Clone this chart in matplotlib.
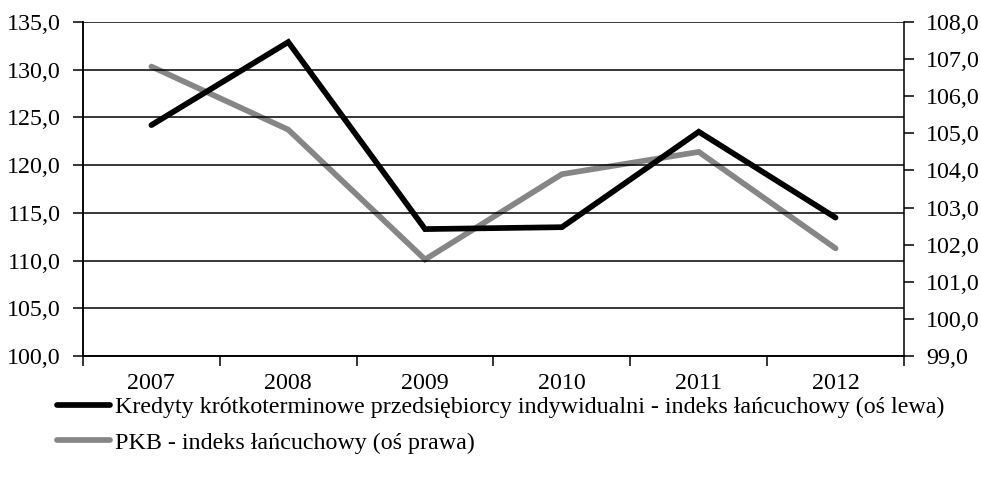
import matplotlib
matplotlib.use("Agg")
import matplotlib.pyplot as plt
from matplotlib.ticker import FuncFormatter, MultipleLocator, FixedLocator

# data
years = ["2007", "2008", "2009", "2010", "2011", "2012"]
kredyty = [124.2, 132.9, 113.3, 113.5, 123.5, 114.5]   # left axis
pkb = [106.8, 105.1, 101.6, 103.9, 104.5, 101.9]       # right axis

label_kredyty = "Kredyty krótkoterminowe przedsiębiorcy indywidualni - indeks łańcuchowy (oś lewa)"
label_pkb = "PKB - indeks łańcuchowy (oś prawa)"

plt.rcParams["font.family"] = ["Liberation Serif", "DejaVu Serif"]
plt.rcParams["font.size"] = 17.3

comma = FuncFormatter(lambda v, p: ("%.1f" % v).replace(".", ","))

fig = plt.figure(figsize=(9.81, 4.79), dpi=100)
ax = fig.add_axes([0.0846, 0.2568, 0.8369, 0.6972])
ax2 = ax.twinx()

x = list(range(len(years)))

l1, = ax.plot(x, kredyty, color="#000000", linewidth=4.1, solid_capstyle="round",
              solid_joinstyle="miter", zorder=3, label=label_kredyty)
l2, = ax2.plot(x, pkb, color="#868686", linewidth=4.1, solid_capstyle="round",
               solid_joinstyle="miter", zorder=3, label=label_pkb)

# keep the black line above the grey one
ax.set_zorder(ax2.get_zorder() + 1)
ax.patch.set_visible(False)

ax.set_xlim(-0.5, len(years) - 0.5)
ax.set_ylim(100, 135)
ax2.set_ylim(99, 108)

ax.yaxis.set_major_locator(MultipleLocator(5))
ax2.yaxis.set_major_locator(MultipleLocator(1))
ax.yaxis.set_major_formatter(comma)
ax2.yaxis.set_major_formatter(comma)

ax.set_xticks(x)
ax.set_xticklabels(years)
ax.xaxis.set_minor_locator(FixedLocator([i - 0.5 for i in range(len(years) + 1)]))
ax.tick_params(axis="x", which="major", length=0, pad=12)
ax.tick_params(axis="x", which="minor", length=7, width=1.1, direction="out")
ax.tick_params(axis="y", length=7, width=1.1, direction="out", pad=9)
ax2.tick_params(axis="y", length=7, width=1.1, direction="out", pad=9)

ax.grid(axis="y", color="#000000", linewidth=1.1)
ax.set_axisbelow(True)

for a in (ax, ax2):
    a.spines["top"].set_visible(False)
    for s in ("left", "right", "bottom"):
        a.spines[s].set_linewidth(1.1)
ax.spines["right"].set_visible(False)

fig.legend(handles=[l1, l2], loc="upper left", bbox_to_anchor=(0.058, 0.172),
           frameon=False, borderpad=0, borderaxespad=0, handlelength=2.2,
           handletextpad=0.2, labelspacing=0.56, fontsize=17.3)

fig.savefig("out.png", dpi=100)
plt.close()
